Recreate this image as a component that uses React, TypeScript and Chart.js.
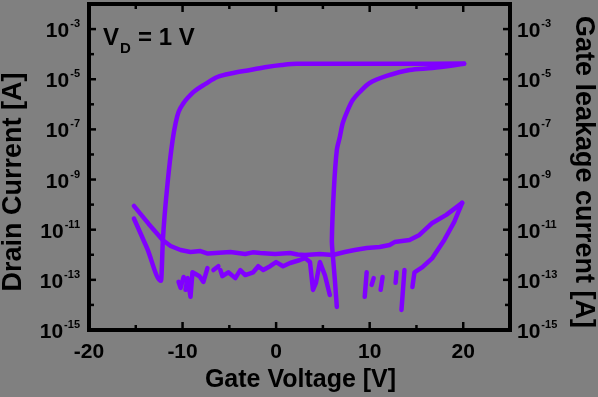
import React, { useEffect, useRef } from "react";
import { Chart, registerables } from "chart.js";

Chart.register(...registerables);

// ---- Data (gate voltage [V], current [A]) ----
const drainFwdV = [-15.2, -13.8, -12.3, -12.1, -11.6, -11.06, -10.74, -10.43, -9.89, -9.36, -8.83, -7.55, -6.28, -4.57, -2.77, -1.0, 0.6, 2.2, 10.0, 20.1];
const drainFwdI = [2.8e-11, 1.86e-12, 9.1e-14, 4.0e-12, 7.2e-10, 3.8e-8, 1.8e-7, 4.9e-7, 1.12e-6, 1.95e-6, 3.1e-6, 6.5e-6, 1.23e-5, 1.78e-5, 2.34e-5, 3.1e-5, 3.7e-5, 4.1e-5, 4.1e-5, 4.2e-5];

const drainRevOnV = [20.1, 16.7, 14.26, 11.81, 10.0, 8.94, 8.19, 7.66, 7.13, 6.81, 6.49, 6.17, 5.96, 6.06, 6.28, 6.49];
const drainRevOnI = [4.1e-5, 2.8e-5, 2.34e-5, 1.35e-5, 7.1e-6, 3.1e-6, 1.48e-6, 5.9e-7, 1.8e-7, 5.0e-8, 1.5e-8, 3.8e-10, 3.9e-12, 9.8e-13, 1.0e-13, 8.3e-15];

const drainRevOffV = [5.74, 5.21, 4.68, 4.26, 3.94, 3.62, 3.09, 2.55, 1.49, 0.74, 0.0, -0.64, -1.38, -1.91, -2.45, -3.3, -3.83, -4.36, -5.11, -5.74, -5.96, -6.05,
  -6.17, -6.7, -7.0,
  -7.34, -7.77, -8.19, -8.94, -9.15, -9.47, -9.68, -9.8,
  -9.89, -10.21, -10.43];
const drainRevOffI = [2.5e-14, 1.55e-13, 5.1e-13, 7.6e-14, 4.0e-14, 5.1e-13, 7.4e-13, 6.2e-13, 4.7e-13, 3.5e-13, 5.1e-13, 3.5e-13, 2.45e-13, 3.5e-13, 2.0e-13, 1.55e-13, 2.45e-13, 1.17e-13, 2.0e-13, 1.4e-13, 2.45e-13, null,
  3.5e-13, 2.45e-13, null,
  2.95e-13, 8.3e-14, 1.4e-13, 2.0e-13, 2.1e-14, 1.17e-13, 4.0e-14, null,
  1.3e-13, 4.8e-14, 8.3e-14];

const gateFwdV = [-15.2, -13.62, -12.13, -11.28, -10.21, -9.15, -8.09, -7.3, -6.49, -4.89, -3.3, -2.5, -1.7, -0.11, 1.49, 2.3, 3.09, 4.68, 6.06, 7.34, 8.4, 9.68, 11.06, 12.13, 12.66, 14.26, 15.32, 16.7, 18.19, 19.89];
const gateFwdI = [8.9e-11, 1.7e-11, 3.9e-12, 2.24e-12, 1.55e-12, 1.29e-12, 1.41e-12, 1.12e-12, 1.17e-12, 1.29e-12, 1.07e-12, 1.25e-12, 1.17e-12, 1.07e-12, 1.17e-12, 1.02e-12, 9.8e-13, 1.07e-12, 9.8e-13, 1.29e-12, 1.55e-12, 1.86e-12, 2.04e-12, 2.45e-12, 3.2e-12, 3.9e-12, 6.2e-12, 1.86e-11, 3.9e-11, 1.17e-10];

const gateRevV = [19.89, 19.04, 17.98, 16.7, 15.64, 14.79, 14.57, 14.0,
  13.72, 13.4, 13.1,
  12.87, 12.77, 12.0,
  11.38, 11.17, 10.8,
  10.43, 10.21, 10.0,
  9.68, 9.47];
const gateRevI = [1.17e-10, 2.04e-11, 3.9e-12, 7.4e-13, 3.2e-13, 2.0e-13, 5.2e-14, null,
  2.45e-13, 6.3e-15, null,
  2.0e-13, 7.6e-14, null,
  1.3e-13, 4.0e-14, null,
  1.17e-13, 6.3e-14, null,
  2.0e-13, 2.1e-14];

// ---- Axes ----
const xMin = -20;
const xMax = 25;
const yMin = 1e-15;
const yMax = 1e-2;
const xMajorTicks = [-20, -10, 0, 10, 20];
const xMinorTicks = [-15, -5, 5, 15];
const xTickLabels = ["-20", "-10", "0", "10", "20"];
const yLabelExps = [-15, -13, -11, -9, -7, -5, -3];
const yMinorExps = [-14, -12, -10, -8, -6, -4];

const xTitle = "Gate Voltage [V]";
const yTitle = "Drain Current [A]";
const y2Title = "Gate leakage current [A]";
const noteMain = "V";
const noteSub = "D";
const noteRest = "= 1 V";

const BG = "#808080";
const LINE = "#8000ff";
const FONT = "'Liberation Sans', Arial, sans-serif";

function pts(v: number[], i: (number | null)[]) {
  return v.map((x, k) => ({ x, y: i[k] }));
}

const framePlugin = {
  id: "framePlugin",
  beforeDraw(chart: any) {
    const ctx = chart.ctx;
    ctx.save();
    ctx.fillStyle = BG;
    ctx.fillRect(0, 0, chart.width, chart.height);
    ctx.restore();
  },
  afterDraw(chart: any) {
    const ctx = chart.ctx as CanvasRenderingContext2D;
    const { left, right, top, bottom } = chart.chartArea;
    const xs = chart.scales.x;
    const ys = chart.scales.y;
    ctx.save();
    ctx.strokeStyle = "#000";
    ctx.fillStyle = "#000";
    ctx.lineWidth = 4;
    ctx.strokeRect(left, top, right - left, bottom - top);

    ctx.lineWidth = 2.5;
    const tick = (x1: number, y1: number, x2: number, y2: number) => {
      ctx.beginPath();
      ctx.moveTo(x1, y1);
      ctx.lineTo(x2, y2);
      ctx.stroke();
    };
    xMajorTicks.forEach((v) => {
      const px = xs.getPixelForValue(v);
      tick(px, bottom, px, bottom - 8);
      tick(px, top, px, top + 8);
    });
    xMinorTicks.forEach((v) => {
      const px = xs.getPixelForValue(v);
      tick(px, bottom, px, bottom - 5);
      tick(px, top, px, top + 5);
    });
    yLabelExps.forEach((e) => {
      const py = ys.getPixelForValue(Math.pow(10, e));
      tick(left, py, left + 7, py);
      tick(right, py, right - 7, py);
    });
    yMinorExps.forEach((e) => {
      const py = ys.getPixelForValue(Math.pow(10, e));
      tick(left, py, left + 5, py);
      tick(right, py, right - 5, py);
    });

    // x tick labels
    ctx.font = `bold 21px ${FONT}`;
    ctx.textAlign = "center";
    ctx.textBaseline = "alphabetic";
    xMajorTicks.forEach((v, k) => {
      const px = xs.getPixelForValue(v);
      ctx.fillText(xTickLabels[k], px, bottom + 28);
    });

    // y tick labels (both sides)
    yLabelExps.forEach((e) => {
      const py = ys.getPixelForValue(Math.pow(10, e));
      const sup = String(e);
      ctx.font = `bold 11px ${FONT}`;
      const ws = ctx.measureText(sup).width;
      ctx.font = `bold 21px ${FONT}`;
      const wb = ctx.measureText("10").width;
      ctx.textAlign = "left";
      const lEnd = left - 9;
      ctx.font = `bold 21px ${FONT}`;
      ctx.fillText("10", lEnd - ws - wb - 1, py + 8);
      ctx.font = `bold 11px ${FONT}`;
      ctx.fillText(sup, lEnd - ws, py - 2);
      const rStart = right + 7;
      ctx.font = `bold 21px ${FONT}`;
      ctx.fillText("10", rStart, py + 8);
      ctx.font = `bold 11px ${FONT}`;
      ctx.fillText(sup, rStart + wb + 1, py - 2);
    });

    // axis titles
    ctx.font = `bold 25px ${FONT}`;
    ctx.textAlign = "center";
    ctx.fillText(xTitle, (left + right) / 2 + 1, 387);

    ctx.save();
    ctx.font = `bold 27px ${FONT}`;
    ctx.translate(21, 182);
    ctx.rotate(-Math.PI / 2);
    ctx.textAlign = "center";
    ctx.fillText(yTitle, 0, 0);
    ctx.restore();

    ctx.save();
    ctx.font = `bold 27px ${FONT}`;
    ctx.translate(576, 172);
    ctx.rotate(Math.PI / 2);
    ctx.textAlign = "center";
    ctx.fillText(y2Title, 0, 0);
    ctx.restore();

    // annotation V_D = 1 V
    ctx.textAlign = "left";
    ctx.font = `bold 24px ${FONT}`;
    ctx.fillText(noteMain, left + 14, top + 41);
    ctx.font = `bold 15px ${FONT}`;
    ctx.fillText(noteSub, left + 31, top + 49);
    ctx.font = `bold 24px ${FONT}`;
    ctx.fillText(noteRest, left + 49, top + 41);

    ctx.restore();
  },
};

export default function App() {
  const ref = useRef<HTMLCanvasElement | null>(null);
  useEffect(() => {
    document.body.style.margin = "0";
    document.body.style.background = BG;
    const canvas = ref.current;
    if (!canvas) return;
    const ds = (data: any, extra: any = {}) => ({
      data,
      borderColor: LINE,
      backgroundColor: LINE,
      borderWidth: 4.5,
      pointRadius: 0,
      tension: 0,
      spanGaps: false,
      borderCapStyle: "round",
      borderJoinStyle: "round",
      fill: false,
      ...extra,
    });
    const chart = new Chart(canvas, {
      type: "line",
      data: {
        datasets: [
          ds(pts(drainFwdV, drainFwdI), { cubicInterpolationMode: "monotone" }),
          ds(pts(drainRevOnV, drainRevOnI), { tension: 0.3 }),
          ds(pts(drainRevOffV, drainRevOffI)),
          ds(pts(gateFwdV, gateFwdI)),
          ds(pts(gateRevV, gateRevI)),
        ] as any,
      },
      options: {
        animation: false,
        responsive: false,
        maintainAspectRatio: false,
        devicePixelRatio: 1,
        layout: { padding: { left: 89, top: 4, right: 88, bottom: 67 } },
        plugins: { legend: { display: false }, tooltip: { enabled: false } },
        scales: {
          x: { type: "linear", min: xMin, max: xMax, display: false },
          y: { type: "logarithmic", min: yMin, max: yMax, display: false },
        },
      } as any,
      plugins: [framePlugin],
    });
    return () => chart.destroy();
  }, []);
  return (
    <div style={{ position: "absolute", left: 0, top: 0, width: 598, height: 397, background: BG }}>
      <canvas ref={ref} width={598} height={397} />
    </div>
  );
}
